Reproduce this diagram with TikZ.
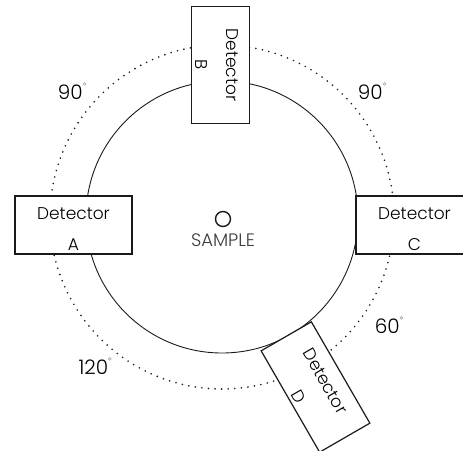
\documentclass[tikz,border=0pt]{standalone}
\usepackage{fontspec}
\setmainfont{Poppins}[UprightFont=* Light]
\usepackage{xcolor}
\usepackage{tikz}
\usetikzlibrary{positioning, calc}
\definecolor{cdark}{HTML}{1A1A1A}
\definecolor{cdeg}{HTML}{9A9A9A}
\newcommand{\degmark}{\raisebox{1.3ex}{\tikz\draw[cdeg, line width=0.5pt] (0,0) circle (1.4pt);}}

\begin{document}
\begin{tikzpicture}[
    x=1pt, y=-1pt,
    font=\fontsize{17}{31}\selectfont,
    detector/.style={
        rectangle, draw=cdark, fill=white, line width=1.2pt,
        minimum width=117pt, minimum height=58pt, align=center,
        inner xsep=2pt, inner ysep=0pt, text height=54pt, text depth=3pt
    },
    ring/.style={draw=cdark, line width=0.9pt},
    orbit/.style={draw=cdark, line width=1.8pt, line cap=round,
        dash pattern=on 0pt off 6.6pt},
    angle/.style={font=\fontsize{20}{22}\selectfont, inner sep=0pt},
]
\useasboundingbox (0,0) rectangle (463,450);

% --- Geometry ----------------------------------------------------------------
\coordinate (centre) at (222,217);

% --- Circles -----------------------------------------------------------------
\draw[orbit] (centre) circle (172);
\draw[ring]  (centre) circle (136);

% --- Sample ------------------------------------------------------------------
\node[circle, draw=cdark, line width=1.4pt, minimum size=15pt, inner sep=0pt]
    (sample) at (223,219) {};
\node[text=cdark!85, font=\fontsize{18}{20}\selectfont, inner sep=0pt]
    (samplelbl) at (223,240) {SAMPLE};

% --- Detectors ---------------------------------------------------------------
\node[detector] (detA) at (73.5,225) {Detector\\A};
\node[detector, rotate=-90] (detB) at (220.5,65) {Detector\\B};
\node[detector] (detC) at (414.5,225) {Detector\\C};
\node[detector, rotate=-60] (detD) at (315.5,387) {Detector\\D};

% --- Angles between detectors ----------------------------------------------
\node[angle] (angAB) at (72,91)  {90\degmark};
\node[angle] (angBC) at (372,91) {90\degmark};
\node[angle] (angCD) at (389,325) {60\degmark};
\node[angle] (angDA) at (95,366) {120\degmark};

\end{tikzpicture}
\end{document}
